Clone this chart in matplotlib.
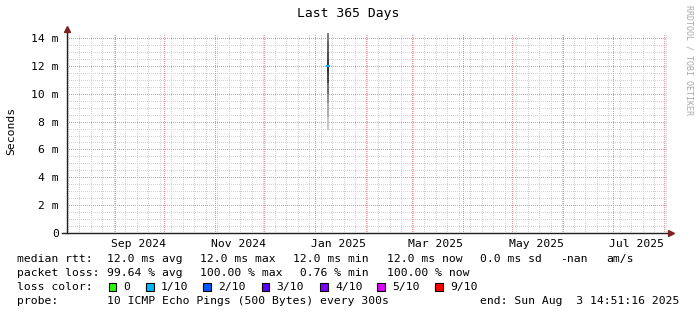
import matplotlib
matplotlib.use("Agg")
import matplotlib.pyplot as plt
import matplotlib.dates as mdates
from matplotlib.patches import Rectangle
import pandas as pd

# ---------------- data ----------------
start = pd.Timestamp("2024-08-03 14:51:16")
end = pd.Timestamp("2025-08-03 14:51:16")

smoke_date = pd.Timestamp("2025-01-09 09:30")
# ping value boundaries of smoke layers (seconds), top to bottom
smoke_levels = [14.36e-3, 13.8e-3, 13.0e-3, 12.4e-3, 12.0e-3, 11.5e-3, 10.8e-3, 10.0e-3, 9.3e-3, 8.3e-3, 7.4e-3]
smoke_grays = ['#7e7e7e', '#626262', '#4e4e4e', '#3c3c3c', '#323232', '#464646', '#707070', '#909090', '#acacac', '#c8c8c8']
median_value = 12.0e-3
median_color = '#00b8ff'

y_ticks = [0, 2e-3, 4e-3, 6e-3, 8e-3, 10e-3, 12e-3, 14e-3]
y_tick_labels = ['0', '2 m', '4 m', '6 m', '8 m', '10 m', '12 m', '14 m']
x_label_dates = ['2024-09-16', '2024-11-16', '2025-01-16', '2025-03-16', '2025-05-16', '2025-07-16']
x_tick_labels = ['Sep 2024', 'Nov 2024', 'Jan 2025', 'Mar 2025', 'May 2025', 'Jul 2025']

title = "Last 365 Days"
ylabel = "Seconds"
watermark = "RRDTOOL / TOBI OETIKER"

rtt_label = "median rtt:"
rtt_items = ["12.0 ms avg", "12.0 ms max", "12.0 ms min", "12.0 ms now", "0.0 ms sd", "-nan", "am/s"]
loss_label = "packet loss:"
loss_items = ["99.64 % avg", "100.00 % max", " 0.76 % min", "100.00 % now"]
color_label = "loss color:"
loss_color_names = ["0", "1/10", "2/10", "3/10", "4/10", "5/10", "9/10"]
loss_colors = ['#26ff00', '#00b8ff', '#0059ff', '#5e00ff', '#7e00ff', '#dd00ff', '#ff0000']
probe_label = "probe:"
probe_text = "10 ICMP Echo Pings (500 Bytes) every 300s"
end_text = "end: Sun Aug  3 14:51:16 2025"

# ---------------- layout ----------------
W, H = 697, 315
fig = plt.figure(figsize=(W / 100, H / 100), dpi=100)
fig.patch.set_facecolor('white')

L, R, T, B = 67, 667, 33, 233
ax = fig.add_axes([L / W, 1 - B / H, (R - L) / W, (B - T) / H])
ax.set_facecolor('white')
ax.set_xlim(mdates.date2num(start), mdates.date2num(end))
ax.set_ylim(0, 14.36e-3)
for s in ax.spines.values():
    s.set_visible(False)

MONO = 'DejaVu Sans Mono'
FS = 8.2

GRID_C = '#d2d2d2'
MGRID_C = '#ee9090'
dot = ':'
lw = 0.72

# minor horizontal grid every 0.5 m, major every 2 m
for k in range(1, 29):
    if k % 4 == 0:
        continue
    ax.axhline(k * 0.5e-3, color=GRID_C, lw=lw, ls=dot, zorder=1, antialiased=False)
for v in y_ticks[1:]:
    ax.axhline(v, color=MGRID_C, lw=lw, ls=dot, zorder=1.5, antialiased=False)

# weekly minor vertical grid, monthly major
weeks = pd.date_range(start.normalize(), end, freq='W-SUN')
months = pd.date_range(start, end, freq='MS')
for d in weeks:
    ax.axvline(mdates.date2num(d), color=GRID_C, lw=lw, ls=dot, zorder=1, antialiased=False)
for d in months:
    ax.axvline(mdates.date2num(d), color=MGRID_C, lw=lw, ls=dot, zorder=1.5, antialiased=False)

# smoke
xs = mdates.date2num(smoke_date)
for i, g in enumerate(smoke_grays):
    top, bot = smoke_levels[i], smoke_levels[i + 1]
    ax.vlines(xs, bot, top, colors=g, lw=1.44, zorder=3, antialiased=False, capstyle='butt')
ax.hlines(median_value, xs - 1.0, xs + 1.0, colors=median_color, lw=1.5, zorder=4)

# ticks
ax.set_yticks(y_ticks)
ax.set_yticklabels(y_tick_labels, fontfamily=MONO, fontsize=FS)
ax.set_xticks([mdates.date2num(pd.Timestamp(d)) for d in x_label_dates])
ax.set_xticklabels(x_tick_labels, fontfamily=MONO, fontsize=FS)
ax.tick_params(axis='both', length=0)
ax.tick_params(axis='y', pad=6)
ax.tick_params(axis='x', pad=4)

# axes with arrows
AX_C = '#1f1f1f'
AR_C = '#7f1f1f'
ax.plot([-5 / 600, 1.0 + 2 / 600], [0, 0], color=AX_C, lw=1.0, transform=ax.transAxes, clip_on=False, zorder=5)
ax.plot([0, 0], [0, 1.0 + 3 / 200], color=AX_C, lw=1.0, transform=ax.transAxes, clip_on=False, zorder=5)
ax.plot([1.0 + 4 / 600], [0], marker='>', color=AR_C, markersize=4.5, transform=ax.transAxes, clip_on=False, zorder=6)
ax.plot([0], [1.0 + 4 / 200], marker='^', color=AR_C, markersize=4.5, transform=ax.transAxes, clip_on=False, zorder=6)


def px(x, y):
    return x / W, 1 - y / H


fig.text(*px(348, 13.5), title, fontfamily=MONO, fontsize=9.4, ha='center', va='center')
fig.text(*px(11, 131), ylabel, fontfamily=MONO, fontsize=FS, rotation=90, ha='center', va='center')
fig.text(*px(689.5, 60), watermark, fontfamily=MONO, fontsize=6.0, rotation=270, ha='center', va='center',
         color='#a8a8a8')

# legend
rows_y = [259.3, 273.3, 287.3, 301.3]
xl = 16.7
fig.text(*px(xl, rows_y[0]), rtt_label, fontfamily=MONO, fontsize=FS, va='center')
for x, t in zip([107.3, 200, 293.3, 386.7, 480, 560, 606.7], rtt_items):
    fig.text(*px(x, rows_y[0]), t, fontfamily=MONO, fontsize=FS, va='center')
fig.text(*px(xl, rows_y[1]), loss_label, fontfamily=MONO, fontsize=FS, va='center')
for x, t in zip([107.3, 200, 293.3, 386.7], loss_items):
    fig.text(*px(x, rows_y[1]), t, fontfamily=MONO, fontsize=FS, va='center')
fig.text(*px(xl, rows_y[2]), color_label, fontfamily=MONO, fontsize=FS, va='center')
for x, name, c in zip([108.7, 146, 203.3, 261.7, 320, 377, 435], loss_color_names, loss_colors):
    fx, fy = px(x, rows_y[2] + 3.5)
    fig.patches.append(Rectangle((fx, fy), 7.5 / W, 7.5 / H, transform=fig.transFigure,
                                 facecolor=c, edgecolor='black', lw=0.8))
    fig.text(*px(x + 15, rows_y[2]), name, fontfamily=MONO, fontsize=FS, va='center')
fig.text(*px(xl, rows_y[3]), probe_label, fontfamily=MONO, fontsize=FS, va='center')
fig.text(*px(107.3, rows_y[3]), probe_text, fontfamily=MONO, fontsize=FS, va='center')
fig.text(*px(480, rows_y[3]), end_text, fontfamily=MONO, fontsize=FS, va='center')

fig.savefig("out.png", dpi=100, facecolor='white')
